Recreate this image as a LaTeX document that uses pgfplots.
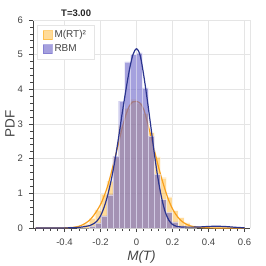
\documentclass[border=0pt]{standalone}
\usepackage{pgfplots}
\pgfplotsset{compat=1.18}
\usepackage{fontspec}
\setmainfont{Liberation Sans}
\definecolor{orangeC}{RGB}{255,165,0}
\definecolor{orangeL}{RGB}{248,160,30}
\definecolor{purpC}{RGB}{105,98,200}
\definecolor{navyL}{RGB}{42,52,142}
\definecolor{gridC}{RGB}{229,229,229}
\definecolor{axC}{RGB}{68,68,68}
\begin{document}
\begin{tikzpicture}
\path[use as bounding box] (-33pt,-38pt) rectangle (233pt,228pt);
\begin{axis}[
  at={(0pt,0pt)}, anchor=south west,
  scale only axis, width=217pt, height=208pt,
  xmin=-0.575, xmax=0.63, ymin=0, ymax=6,
  clip=false,
  axis lines*=left,
  axis line style={axC, line width=0.8pt},
  xtick={-0.4,-0.2,0,0.2,0.4,0.6},
  xticklabels={-0.4,-0.2,0,0.2,0.4,0.6},
  ytick={0,1,2,3,4,5,6},
  minor xtick={-0.56,-0.52,-0.48,-0.44,-0.36,-0.32,-0.28,-0.24,-0.16,-0.12,-0.08,-0.04,0.04,0.08,0.12,0.16,0.24,0.28,0.32,0.36,0.44,0.48,0.52,0.56,0.6},
  minor ytick={0.2,0.4,0.6,0.8,1.2,1.4,1.6,1.8,2.2,2.4,2.6,2.8,3.2,3.4,3.6,3.8,4.2,4.4,4.6,4.8,5.2,5.4,5.6,5.8},
  tick align=outside,
  major tick length=4pt, minor tick length=2.5pt,
  tick style={axC, line width=0.7pt},
  xmajorgrids, ymajorgrids,
  grid style={gridC, line width=0.8pt},
  /pgf/number format/assume math mode=true,
  ticklabel style={font=\fontsize{9.5}{11}\selectfont, text=axC},
  yticklabel shift=2.5pt,
  xticklabel shift=3.5pt,
  xlabel={\itshape M(T)},
  ylabel={PDF},
  label style={font=\fontsize{13.5}{15}\selectfont, text=axC},
  xlabel style={at={(axis description cs:0.5,-0.14)}, anchor=center},
  ylabel style={at={(axis description cs:-0.106,0.5)}, anchor=center},
  legend style={at={(axis description cs:0.018,0.976)}, anchor=north west, draw=gridC, fill=white, font=\fontsize{10}{12}\selectfont, text=axC, inner xsep=6pt, inner ysep=3.5pt, row sep=1.5pt, cells={anchor=west}},
  legend cell align=left,
]
\draw[gridC, line width=0.8pt] (rel axis cs:0,1) -- (rel axis cs:1,1) -- (rel axis cs:1,0);
% M(RT)^2 histogram
\addplot[ybar interval, fill=orangeC, fill opacity=0.4, draw=white, draw opacity=0.5, line width=0.4pt,
  legend image code/.code={\fill[orangeC, fill opacity=0.4] (0pt,-4.5pt) rectangle (9pt,4.5pt);}]
coordinates {
(-0.330,0.05) (-0.297,0.12) (-0.264,0.28) (-0.231,0.52) (-0.198,0.98) (-0.165,1.35)
(-0.132,2.05) (-0.099,2.95) (-0.066,3.45) (-0.033,3.70) (0.000,3.60) (0.033,3.30)
(0.066,2.75) (0.099,2.05) (0.132,1.45) (0.165,0.90) (0.198,0.50) (0.231,0.30)
(0.264,0.15) (0.297,0.06) (0.330,0)
};
\addlegendentry{M(RT)²}
% M(RT)^2 KDE
\addplot[orangeL, line width=1.2pt, forget plot, smooth] coordinates {
(-0.56,0) (-0.45,0.001) (-0.40,0.004) (-0.35,0.02) (-0.32,0.05) (-0.30,0.09)
(-0.28,0.15) (-0.26,0.23) (-0.24,0.35) (-0.22,0.50) (-0.20,0.68) (-0.18,0.92)
(-0.16,1.22) (-0.14,1.60) (-0.12,2.02) (-0.10,2.45) (-0.08,2.88) (-0.06,3.25)
(-0.04,3.52) (-0.02,3.64) (0.00,3.65) (0.02,3.60) (0.04,3.42) (0.06,3.05)
(0.08,2.64) (0.10,2.22) (0.12,1.80) (0.14,1.42) (0.16,1.08) (0.18,0.78)
(0.20,0.55) (0.22,0.38) (0.24,0.25) (0.26,0.16) (0.28,0.10) (0.30,0.06)
(0.32,0.035) (0.35,0.015) (0.40,0.005) (0.45,0.002) (0.50,0.001) (0.60,0)
};
% RBM histogram
\addplot[ybar interval, fill=purpC, fill opacity=0.6, draw=white, draw opacity=0.5, line width=0.4pt,
  legend image code/.code={\fill[purpC, fill opacity=0.6] (0pt,-4.5pt) rectangle (9pt,4.5pt);}]
coordinates {
(-0.264,0.06) (-0.231,0.15) (-0.198,0.35) (-0.165,0.96) (-0.132,2.07) (-0.099,3.66)
(-0.066,4.79) (-0.033,5.00) (0.000,5.05) (0.033,4.04) (0.066,2.65) (0.099,1.55)
(0.132,0.82) (0.165,0.45) (0.198,0.18) (0.231,0.06) (0.264,0)
};
\addlegendentry{RBM}
% RBM KDE
\addplot[navyL, line width=1.2pt, forget plot, smooth] coordinates {
(-0.56,0) (-0.40,0.003) (-0.35,0.01) (-0.30,0.03) (-0.26,0.07) (-0.24,0.12)
(-0.22,0.20) (-0.20,0.35) (-0.18,0.60) (-0.16,0.95) (-0.14,1.40) (-0.12,1.95)
(-0.10,2.60) (-0.08,3.30) (-0.06,3.95) (-0.04,4.55) (-0.02,5.00) (0.00,5.17)
(0.02,4.98) (0.04,4.40) (0.06,3.68) (0.08,2.90) (0.10,2.10) (0.12,1.40)
(0.14,0.85) (0.16,0.45) (0.18,0.22) (0.20,0.10) (0.22,0.05) (0.25,0.03)
(0.30,0.025) (0.35,0.03) (0.40,0.045) (0.45,0.05) (0.50,0.04) (0.55,0.02) (0.60,0.005)
};
\end{axis}
\node[anchor=south west, inner sep=0pt, font=\bfseries\fontsize{9.5}{11}\selectfont, text=black!85] at (28pt,211pt) {T=3.00};
\end{tikzpicture}
\end{document}
